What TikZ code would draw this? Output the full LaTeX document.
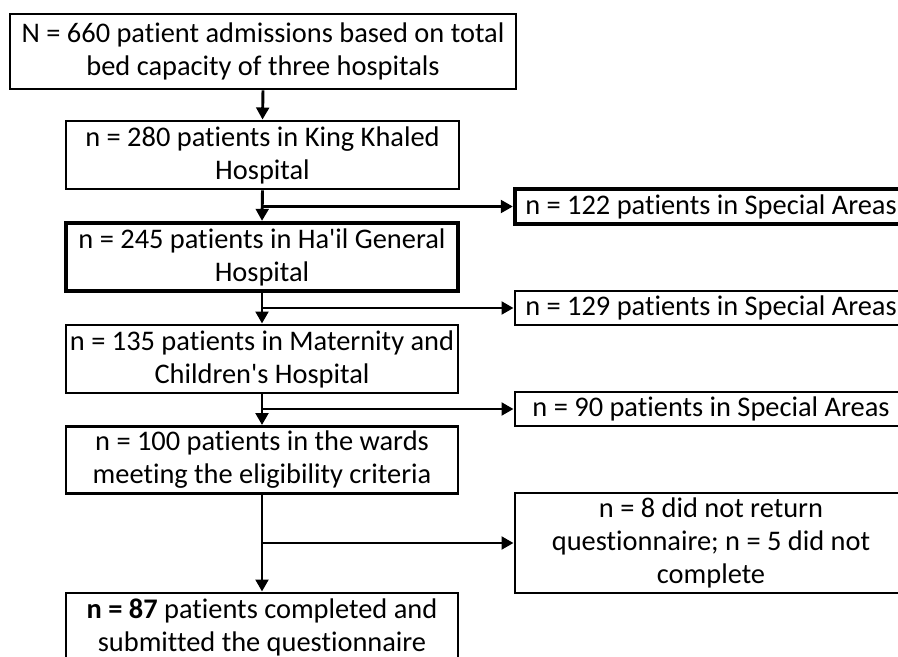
\documentclass[tikz,border=0pt]{standalone}
\usepackage{fontspec}
\setmainfont[Ligatures={TeXOff,NoCommon}]{Carlito}
\usetikzlibrary{arrows.meta}
\newdimen\px \px=0.75pt
\tikzset{
  box/.style={draw, line width=2.2pt, rectangle, align=center, inner sep=0pt,
    font=\fontsize{21.3}{24.75}\selectfont},
  thickbox/.style={box, line width=3.2pt},
  arr/.style={line width=2.2pt, -{Triangle[length=9pt,width=9.5pt]}},
}
\begin{document}
\begin{tikzpicture}[x=0.75pt,y=-0.75pt]
\useasboundingbox (0,0) rectangle (898,656);
\node[box, minimum width=506\px, minimum height=75\px] (b1) at (263,51.5)
  {N = 660 patient admissions based on total\\bed capacity of three hospitals};
\node[box, minimum width=393\px, minimum height=68\px] (b2) at (262.5,155)
  {n = 280 patients in King Khaled\\Hospital};
\node[thickbox, minimum width=392\px, minimum height=68\px] (b3) at (262,257)
  {n = 245 patients in Ha'il General\\Hospital};
\node[box, minimum width=392\px, minimum height=68\px] (b4) at (262,359)
  {n = 135 patients in Maternity and\\Children's Hospital};
\node[box, minimum width=392\px, minimum height=67\px] (b5) at (262,460)
  {n = 100 patients in the wards\\meeting the eligibility criteria};
\node[box, minimum width=392\px, minimum height=68\px] (b6) at (262,627)
  {\textbf{n = 87} patients completed and\\submitted the questionnaire};
\node[thickbox, minimum width=392\px, minimum height=35\px] (sA) at (711,206.5)
  {n = 122 patients in Special Areas};
\node[box, minimum width=392\px, minimum height=34\px] (sB) at (711,308)
  {n = 129 patients in Special Areas};
\node[box, minimum width=392\px, minimum height=34\px] (sC) at (711,409)
  {n = 90 patients in Special Areas};
\node[box, minimum width=392\px, minimum height=100\px] (sD) at (711,543)
  {n = 8 did not return\\questionnaire; n = 5 did not\\complete};
\draw[arr] (b1.south) -- (b2.north);
\draw[arr] (b2.south) -- (b3.north);
\draw[arr] (b3.south) -- (b4.north);
\draw[arr] (b4.south) -- (b5.north);
\draw[arr] (b5.south) -- (b6.north);
\draw[arr] (b2.south |- sA.west) -- (sA.west);
\draw[arr] (b3.south |- sB.west) -- (sB.west);
\draw[arr] (b4.south |- sC.west) -- (sC.west);
\draw[arr] (b5.south |- sD.west) -- (sD.west);
\end{tikzpicture}
\end{document}
